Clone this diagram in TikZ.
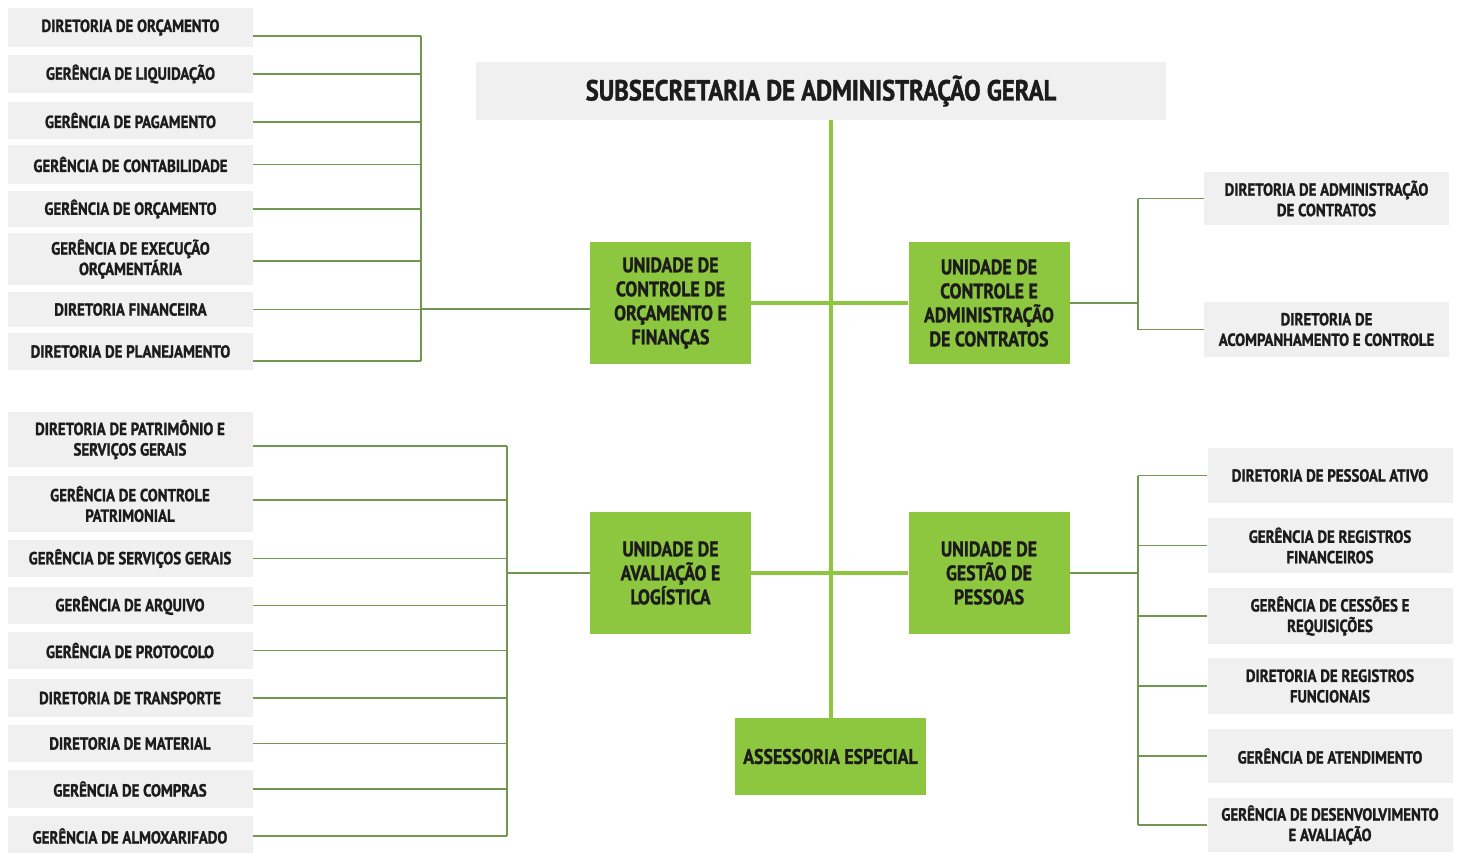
\documentclass[tikz,border=0pt]{standalone}
\usepackage{fontspec}
\newfontfamily\orgfont[FakeStretch=0.85, BoldFeatures={FakeBold=1.3}]{PT Sans}
\definecolor{boxgray}{RGB}{240,240,240}
\definecolor{unitgreen}{RGB}{141,198,63}
\definecolor{linegreen}{RGB}{112,150,80}
\definecolor{inkdark}{RGB}{28,28,28}
\tikzset{
    leaf/.style={fill=boxgray, inner sep=0pt, minimum width=245pt, align=center, text=inkdark,
        font=\orgfont\bfseries\fontsize{17.5}{20.5}\selectfont},
    unit/.style={fill=unitgreen, inner sep=0pt, minimum width=161pt, minimum height=122pt, align=center, text=inkdark,
        font=\orgfont\bfseries\fontsize{21}{24}\selectfont},
    thinline/.style={draw=linegreen, line width=1.3pt},
    thickline/.style={draw=unitgreen, line width=4pt},
}
\begin{document}
\begin{tikzpicture}[x=1pt, y=-1pt]
    \useasboundingbox (0,0) rectangle (1458,852) ;

    \node [fill=boxgray, inner sep=0pt, minimum width=690pt, minimum height=58pt, text=inkdark,
        font=\orgfont\bfseries\fontsize{29}{32}\selectfont] (sub) at (821,91) {SUBSECRETARIA DE ADMINISTRAÇÃO GERAL} ;

    \node [unit] (ucof) at (670.5,303) {UNIDADE DE\\CONTROLE DE\\ORÇAMENTO E\\FINANÇAS} ;
    \node [unit] (ucac) at (989,303) {UNIDADE DE\\CONTROLE E\\ADMINISTRAÇÃO\\DE CONTRATOS} ;
    \node [unit] (ual) at (670.5,573) {UNIDADE DE\\AVALIAÇÃO E\\LOGÍSTICA} ;
    \node [unit] (ugp) at (989,573) {UNIDADE DE\\GESTÃO DE\\PESSOAS} ;
    \node [unit, minimum width=191pt, minimum height=77pt] (asses) at (830.5,756.5) {ASSESSORIA ESPECIAL} ;

    \node [leaf, minimum height=39pt] (o1) at (130.5,27.5) {DIRETORIA DE ORÇAMENTO} ;
    \node [leaf, minimum height=38pt] (o2) at (130.5,74) {GERÊNCIA DE LIQUIDAÇÃO} ;
    \node [leaf, minimum height=37pt] (o3) at (130.5,120.5) {GERÊNCIA DE PAGAMENTO} ;
    \node [leaf, minimum height=39pt] (o4) at (130.5,164.5) {GERÊNCIA DE CONTABILIDADE} ;
    \node [leaf, minimum height=36pt] (o5) at (130.5,209) {GERÊNCIA DE ORÇAMENTO} ;
    \node [leaf, minimum height=52pt] (o6) at (130.5,259) {GERÊNCIA DE EXECUÇÃO\\ORÇAMENTÁRIA} ;
    \node [leaf, minimum height=35pt] (o7) at (130.5,309.5) {DIRETORIA FINANCEIRA} ;
    \node [leaf, minimum height=37pt] (o8) at (130.5,351.5) {DIRETORIA DE PLANEJAMENTO} ;

    \node [leaf, minimum height=55pt] (p1) at (130,439.5) {DIRETORIA DE PATRIMÔNIO E\\SERVIÇOS GERAIS} ;
    \node [leaf, minimum height=56pt] (p2) at (130,504) {GERÊNCIA DE CONTROLE\\PATRIMONIAL} ;
    \node [leaf, minimum height=37pt] (p3) at (130,558.5) {GERÊNCIA DE SERVIÇOS GERAIS} ;
    \node [leaf, minimum height=37pt] (p4) at (130,605.5) {GERÊNCIA DE ARQUIVO} ;
    \node [leaf, minimum height=37pt] (p5) at (130,650.5) {GERÊNCIA DE PROTOCOLO} ;
    \node [leaf, minimum height=38pt] (p6) at (130,698) {DIRETORIA DE TRANSPORTE} ;
    \node [leaf, minimum height=37pt] (p7) at (130,743.5) {DIRETORIA DE MATERIAL} ;
    \node [leaf, minimum height=38pt] (p8) at (130,789) {GERÊNCIA DE COMPRAS} ;
    \node [leaf, minimum height=40pt] (p9) at (130,836) {GERÊNCIA DE ALMOXARIFADO} ;

    \node [leaf, minimum height=53pt] (r1) at (1326.5,198.5) {DIRETORIA DE ADMINISTRAÇÃO\\DE CONTRATOS} ;
    \node [leaf, minimum height=55pt] (r2) at (1326.5,329.5) {DIRETORIA DE\\ACOMPANHAMENTO E CONTROLE} ;

    \node [leaf, minimum height=55pt] (s1) at (1330,475.5) {DIRETORIA DE PESSOAL ATIVO} ;
    \node [leaf, minimum height=55pt] (s2) at (1330,545.5) {GERÊNCIA DE REGISTROS\\FINANCEIROS} ;
    \node [leaf, minimum height=56pt] (s3) at (1330,616) {GERÊNCIA DE CESSÕES E\\REQUISIÇÕES} ;
    \node [leaf, minimum height=56pt] (s4) at (1330,686) {DIRETORIA DE REGISTROS\\FUNCIONAIS} ;
    \node [leaf, minimum height=54pt] (s5) at (1330,756) {GERÊNCIA DE ATENDIMENTO} ;
    \node [leaf, minimum height=54pt] (s6) at (1330,825) {GERÊNCIA DE DESENVOLVIMENTO\\E AVALIAÇÃO} ;

    \coordinate (busof) at (421,0) ;
    \coordinate (busal) at (507,0) ;
    \coordinate (busac) at (1138,0) ;
    \coordinate (busgp) at (1138,0) ;

    \draw [thickline] (sub.south -| asses) -- (asses.north) ;
    \draw [thickline] (ucof.east) -- (ucac.west) ;
    \draw [thickline] (ual.east) -- (ugp.west) ;

    \draw [thinline] ([yshift=-8.5pt]o1.east) -- ([yshift=-8.5pt]o1.east -| busof) ;
    \draw [thinline] (o2.east) -- (o2.east -| busof) ;
    \draw [thinline] ([yshift=-1.5pt]o3.east) -- ([yshift=-1.5pt]o3.east -| busof) ;
    \draw [thinline] (o4.east) -- (o4.east -| busof) ;
    \draw [thinline] (o5.east) -- (o5.east -| busof) ;
    \draw [thinline] ([yshift=-2pt]o6.east) -- ([yshift=-2pt]o6.east -| busof) ;
    \draw [thinline] (o7.east) -- (o7.east -| busof) ;
    \draw [thinline] ([yshift=-9.5pt]o8.east) -- ([yshift=-9.5pt]o8.east -| busof) ;
    \draw [thinline] ([yshift=-8.5pt]o1.east -| busof) -- ([yshift=-9.5pt]o8.east -| busof) ;
    \draw [thinline] ([yshift=-6pt]busof |- ucof) -- ([yshift=-6pt]ucof.west) ;

    \draw [thinline] ([yshift=-6.5pt]p1.east) -- ([yshift=-6.5pt]p1.east -| busal) ;
    \draw [thinline] ([yshift=4pt]p2.east) -- ([yshift=4pt]p2.east -| busal) ;
    \draw [thinline] (p3.east) -- (p3.east -| busal) ;
    \draw [thinline] (p4.east) -- (p4.east -| busal) ;
    \draw [thinline] (p5.east) -- (p5.east -| busal) ;
    \draw [thinline] (p6.east) -- (p6.east -| busal) ;
    \draw [thinline] (p7.east) -- (p7.east -| busal) ;
    \draw [thinline] (p8.east) -- (p8.east -| busal) ;
    \draw [thinline] (p9.east) -- (p9.east -| busal) ;
    \draw [thinline] ([yshift=-6.5pt]p1.east -| busal) -- (p9.east -| busal) ;
    \draw [thinline] (busal |- ual) -- (ual.west) ;

    \draw [thinline] (ucac.east) -- (ucac.east -| busac) ;
    \draw [thinline] (r1.west -| busac) -- (r2.west -| busac) ;
    \draw [thinline] (r1.west -| busac) -- (r1.west) ;
    \draw [thinline] (r2.west -| busac) -- (r2.west) ;

    \draw [thinline] (ugp.east) -- (ugp.east -| busgp) ;
    \draw [thinline] (s1.west -| busgp) -- (s6.west -| busgp) ;
    \draw [thinline] (s1.west -| busgp) -- (s1.west) ;
    \draw [thinline] (s2.west -| busgp) -- (s2.west) ;
    \draw [thinline] (s3.west -| busgp) -- (s3.west) ;
    \draw [thinline] (s4.west -| busgp) -- (s4.west) ;
    \draw [thinline] (s5.west -| busgp) -- (s5.west) ;
    \draw [thinline] (s6.west -| busgp) -- (s6.west) ;
\end{tikzpicture}
\end{document}
